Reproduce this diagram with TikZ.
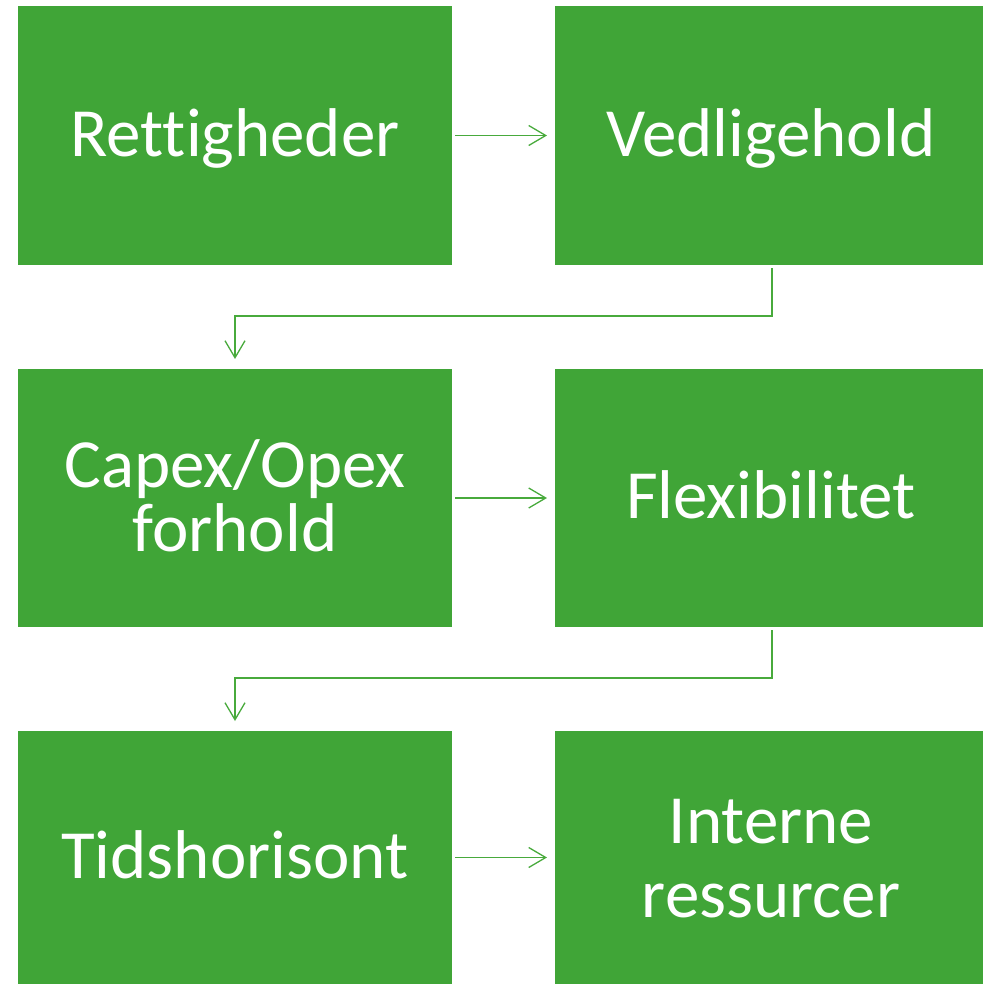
\documentclass[tikz,border=0pt]{standalone}
\usepackage{fontspec}
\setmainfont{Carlito}[Ligatures={NoCommon}]
\usetikzlibrary{arrows.meta}
\definecolor{boxgreen}{RGB}{64,165,55}
\definecolor{linegreen}{RGB}{72,170,60}
\tikzset{
  box/.style={fill=boxgreen, draw=none, inner sep=0pt, outer sep=0pt},
  txt/.style={text=white, font=\fontsize{69bp}{72bp}\selectfont, text width=420bp, align=center, inner sep=0pt, anchor=base},
  conn/.style={draw=linegreen, line width=1.3bp, -{Straight Barb[length=17bp,width=20bp,line width=1.3bp]}}
}
\begin{document}
\begin{tikzpicture}[x=1bp,y=-1bp]
\useasboundingbox (0,0) rectangle (983,984);
\node[box, minimum width=434bp, minimum height=259bp] (A) at (235,135.5) {};
\node[box, minimum width=428bp, minimum height=259bp] (B) at (769,135.5) {};
\node[box, minimum width=434bp, minimum height=258bp] (C) at (235,498) {};
\node[box, minimum width=428bp, minimum height=258bp] (D) at (769,498) {};
\node[box, minimum width=434bp, minimum height=253bp] (E) at (235,857.5) {};
\node[box, minimum width=428bp, minimum height=253bp] (F) at (769,857.5) {};
\node[txt] (tA) at (235,156) {Rettigheder};
\node[txt] (tB) at (771,156) {Vedligehold};
\node[txt, font=\fontsize{69bp}{64bp}\selectfont] (tC) at (235,487) {Capex/Opex\\forhold};
\node[txt] (tD) at (771,518.5) {Flexibilitet};
\node[txt] (tE) at (235,878) {Tidshorisont};
\node[txt, font=\fontsize{69bp}{74bp}\selectfont] (tF) at (771,843) {Interne\\ressurcer};
\draw[conn] ([xshift=3bp]A.east) -- ([xshift=-8bp]B.west);
\draw[conn] ([xshift=3bp]C.east) -- ([xshift=-8bp]D.west);
\draw[conn] ([xshift=3bp]E.east) -- ([xshift=-8bp]F.west);
\draw[conn] ([shift={(3,3)}]B.south) -- ++(0,48) -| ([shift={(0,-10)}]C.north);
\draw[conn] ([shift={(3,3)}]D.south) -- ++(0,48) -| ([shift={(0,-10)}]E.north);
\end{tikzpicture}
\end{document}
